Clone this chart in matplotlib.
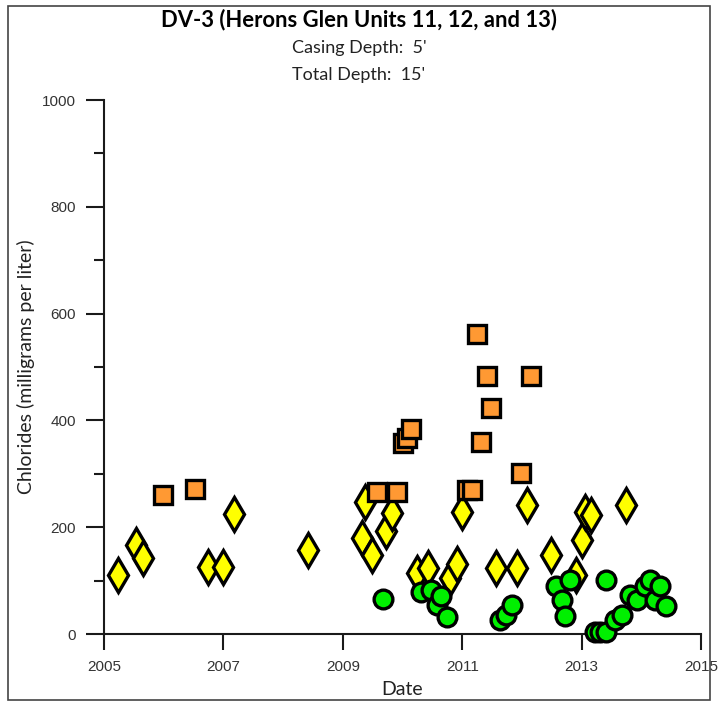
import numpy as np
import matplotlib
matplotlib.use("Agg")
import matplotlib.pyplot as plt
from matplotlib.patches import Rectangle
from matplotlib.ticker import MultipleLocator

# ---------- DATA (decimal year, chlorides mg/L) ----------
diamond_dates = [2005.23, 2005.54, 2005.66, 2006.75, 2007.00, 2007.18, 2008.41,
                 2009.32, 2009.37, 2009.49, 2009.73, 2009.83, 2010.24, 2010.42,
                 2010.80, 2010.91, 2010.99, 2011.57, 2011.91, 2012.08, 2012.49,
                 2012.91, 2013.00, 2013.06, 2013.15, 2013.74]
diamond_vals = [110, 167, 142, 126, 126, 225, 157,
                179, 248, 148, 192, 226, 114, 123,
                104, 132, 229, 123, 123, 241, 148,
                110, 176, 229, 222, 241]

square_dates = [2005.99, 2006.52, 2009.58, 2009.90, 2010.00, 2010.07, 2010.15,
                2011.08, 2011.16, 2011.24, 2011.31, 2011.41, 2011.48, 2011.99, 2012.16]
square_vals = [260, 271, 265, 265, 357, 367, 384,
               270, 270, 562, 360, 483, 424, 301, 483]

circle_dates = [2009.67, 2010.31, 2010.47, 2010.57, 2010.65, 2010.75, 2011.63,
                2011.74, 2011.83, 2012.57, 2012.67, 2012.72, 2012.81, 2013.22,
                2013.30, 2013.41, 2013.41, 2013.56, 2013.67, 2013.81, 2013.92,
                2014.06, 2014.15, 2014.23, 2014.32, 2014.41]
circle_vals = [65, 79, 82, 54, 71, 32, 26,
               36, 54, 90, 64, 34, 101, 4,
               4, 101, 4, 26, 36, 73, 64,
               89, 101, 64, 90, 52]

x_ticks = [2005, 2007, 2009, 2011, 2013, 2015]

TITLE = "DV-3 (Herons Glen Units 11, 12, and 13)"
SUB1 = "Casing Depth:  5'"
SUB2 = "Total Depth:  15'"
# ---------------------------------------------------------

LABEL_FONT = ["Lato", "DejaVu Sans"]
TICK_FONT = ["Liberation Sans", "DejaVu Sans"]
AXIS_COLOR = "#1a1a1a"

fig = plt.figure(figsize=(7.18, 7.02), dpi=100)
ax = fig.add_axes([104 / 718, 1 - 634 / 702, (701 - 104) / 718, (634 - 100) / 702])

mk = dict(linestyle="none", markeredgecolor="black", markeredgewidth=2.4, clip_on=False)
ax.plot(diamond_dates, diamond_vals, marker="d", markersize=17.5,
        markerfacecolor="#ffff00", zorder=3, **mk)
ax.plot(circle_dates, circle_vals, marker="o", markersize=13.5,
        markerfacecolor="#00f000", zorder=4, **mk)
ax.plot(square_dates, square_vals, marker="s", markersize=13,
        markerfacecolor="#ff9933", zorder=5, **mk)

ax.set_xlim(2005, 2015)
ax.set_ylim(0, 1000)
ax.set_xticks(x_ticks)
ax.set_xticklabels([str(t) for t in x_ticks])
ax.yaxis.set_major_locator(MultipleLocator(200))
ax.yaxis.set_minor_locator(MultipleLocator(100))

for s in ["top", "right"]:
    ax.spines[s].set_visible(False)
for s in ["left", "bottom"]:
    ax.spines[s].set_linewidth(1.5)
    ax.spines[s].set_color(AXIS_COLOR)

ax.tick_params(axis="x", which="major", direction="out", length=11.5, width=1.5,
               color=AXIS_COLOR, pad=7, labelsize=11, labelcolor="#333333")
ax.tick_params(axis="y", which="major", direction="out", length=13, width=1.5,
               color=AXIS_COLOR, pad=7, labelsize=11, labelcolor="#333333")
ax.tick_params(axis="y", which="minor", direction="out", length=7, width=1.5,
               color=AXIS_COLOR)
for lab in ax.get_xticklabels() + ax.get_yticklabels():
    lab.set_family(TICK_FONT)

ax.set_xlabel("Date", family=LABEL_FONT, fontsize=14, color="#222222", labelpad=5)
ax.set_ylabel("Chlorides (milligrams per liter)", family=LABEL_FONT, fontsize=14,
              color="#222222", labelpad=5)

fig.text(0.5, 1 - 20 / 702, TITLE, ha="center", va="center", family=LABEL_FONT,
         fontsize=15.8, fontweight="bold", color="black")
fig.text(0.5, 1 - 48 / 702, SUB1, ha="center", va="center", family=LABEL_FONT,
         fontsize=13, color="#222222")
fig.text(0.5, 1 - 75 / 702, SUB2, ha="center", va="center", family=LABEL_FONT,
         fontsize=13, color="#222222")

# border around the whole chart
fig.patches.append(Rectangle((8 / 718, 1 - 700 / 702), (710 - 8) / 718, (700 - 6) / 702,
                             transform=fig.transFigure, fill=False,
                             edgecolor="#444444", linewidth=1.2))

fig.savefig("out.png", dpi=100)
